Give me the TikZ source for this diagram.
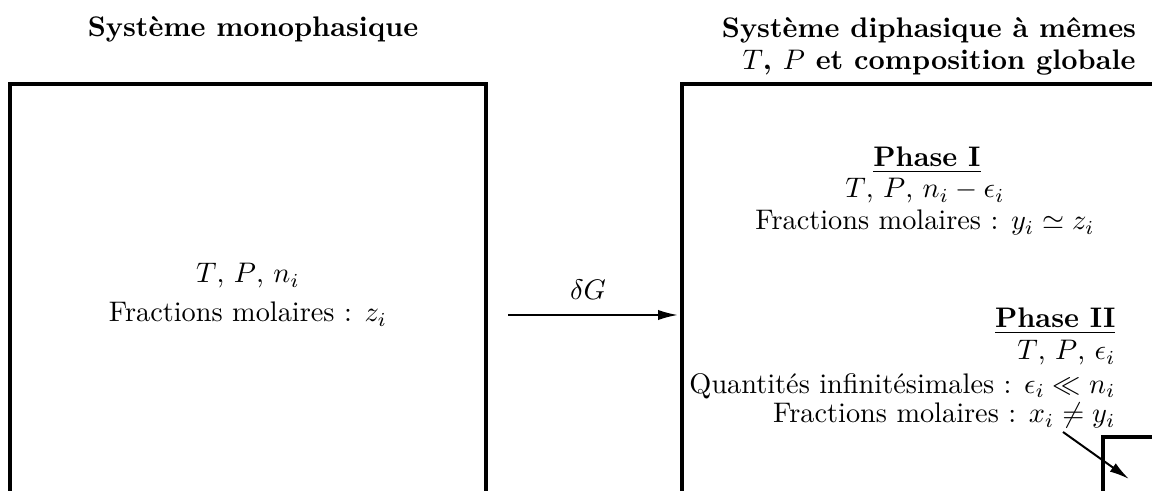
\documentclass[tikz,border=0pt]{standalone}
\usetikzlibrary{arrows.meta}
\begin{document}
\begin{tikzpicture}[x=0.3533pt,y=-0.3533pt,
  box/.style={line width=1.2pt},
  conn/.style={line width=0.7pt,-{Latex[length=7pt,width=3.6pt]}},
  txt/.style={inner sep=0pt,anchor=base},
  rtxt/.style={inner sep=0pt,anchor=base east}]
\useasboundingbox (0,0) rectangle (1152,491);
\clip (0,0) rectangle (1152,491);
% titles
\node[txt] (t1) at (253,37) {\textbf{Système monophasique}};
\node[txt] (t2a) at (929,38) {\textbf{Système diphasique à mêmes}};
\node[txt] (t2b) at (939,70) {$T$\textbf{, }$P$\textbf{ et composition globale}};
% boxes
\draw[box] (10,600) -- (10,84) -- (486,84) -- (486,600);
\draw[box] (682,600) -- (682,84) -- (1200,84);
\draw[box] (1103,600) -- (1103,437) -- (1200,437);
% left contents
\node[txt] (l1) at (248,283) {$T$, $P$, $n_i$};
\node[txt] (l2) at (248,322) {Fractions molaires : $z_i$};
% arrow
\coordinate (as) at (508,315);
\coordinate (ae) at (678,315);
\draw[conn] (as) -- (ae);
\node[txt] (dg) at (588,300) {$\delta G$};
% phase I
\node[txt] (p1) at (927,167) {\underline{\textbf{Phase I}}};
\node[txt] (p1a) at (925,198) {$T$, $P$, $n_i-\epsilon_i$};
\node[txt] (p1b) at (925,230) {Fractions molaires : $y_i\simeq z_i$};
% phase II
\node[rtxt] (p2) at (1116,328) {\underline{\textbf{Phase II}}};
\node[rtxt] (p2a) at (1116,360) {$T$, $P$, $\epsilon_i$};
\node[rtxt] (p2b) at (1116,393) {Quantités infinitésimales : $\epsilon_i\ll n_i$};
\node[rtxt] (p2c) at (1116,423) {Fractions molaires : $x_i\neq y_i$};
% diagonal arrow
\coordinate (ds) at (1063,432);
\coordinate (de) at (1129,479);
\draw[conn] (ds) -- (de);
\end{tikzpicture}
\end{document}
